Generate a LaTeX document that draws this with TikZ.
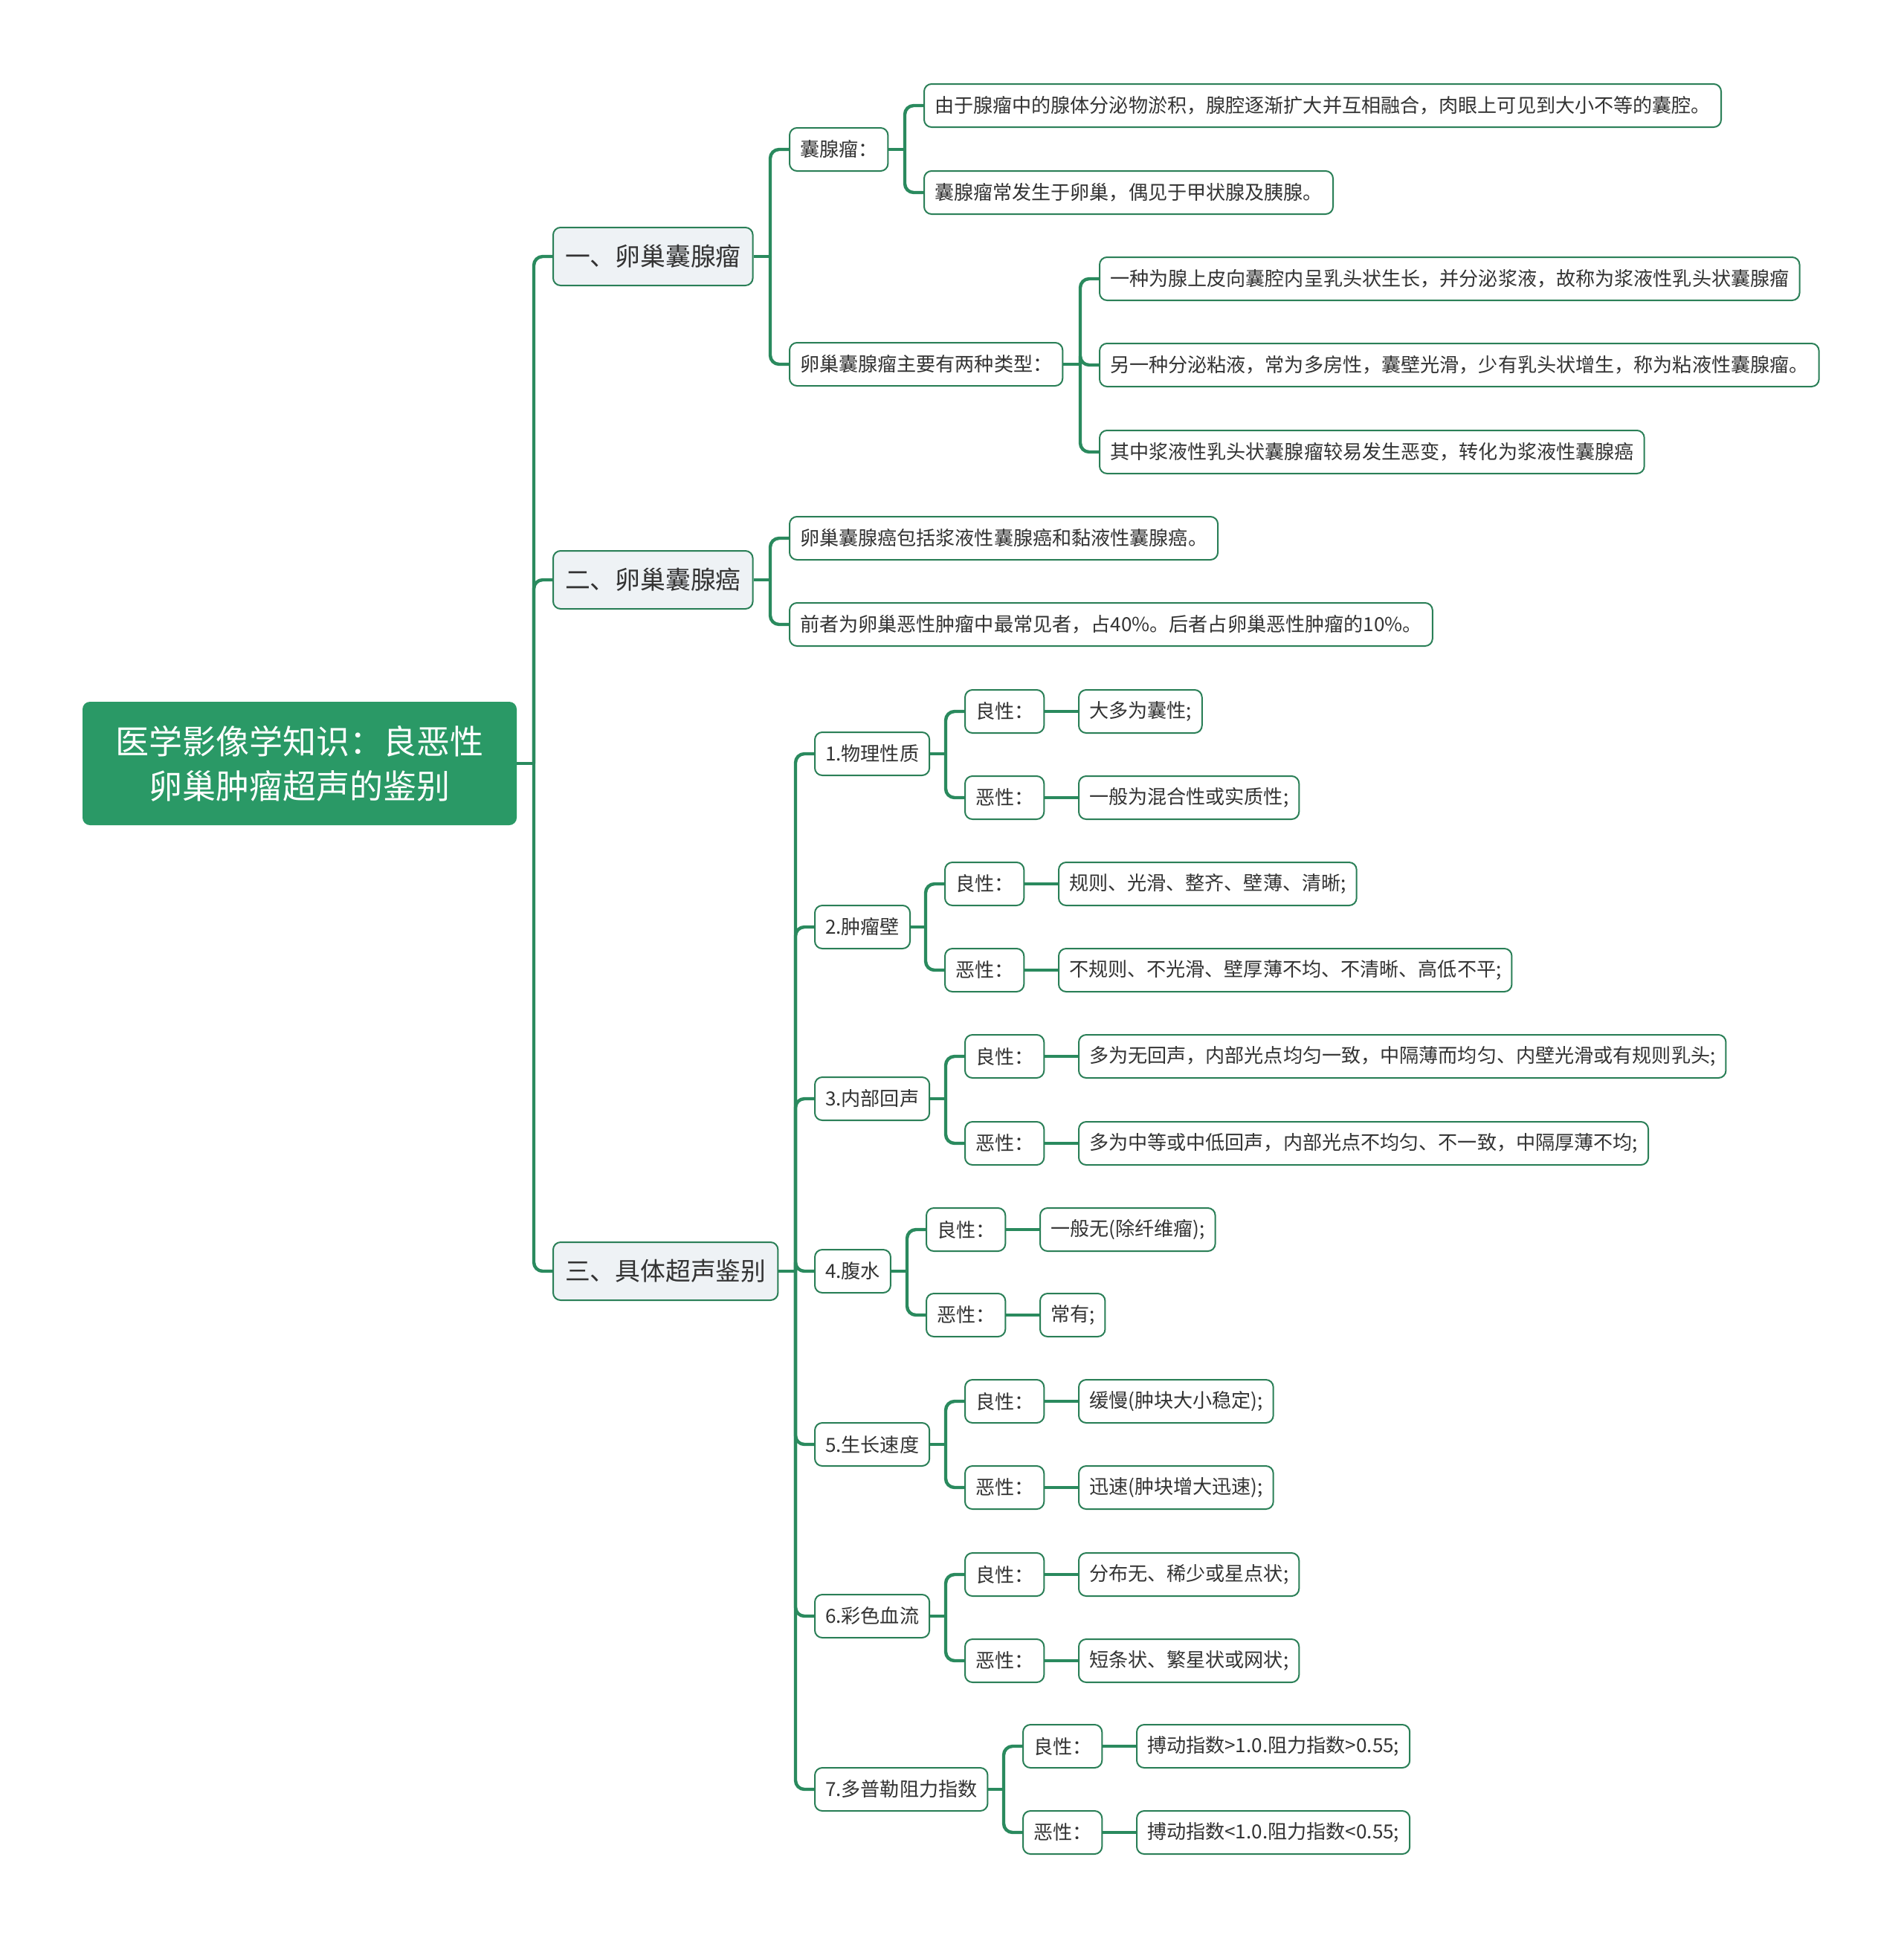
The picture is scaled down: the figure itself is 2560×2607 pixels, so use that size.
\documentclass[tikz,border=0pt]{standalone}
\usepackage{fontspec}
\setmainfont{Noto Sans CJK SC}
\usetikzlibrary{calc}
\definecolor{linec}{HTML}{2A8A5E}
\definecolor{borderc}{HTML}{2A7F57}
\definecolor{rootc}{HTML}{2A9966}
\definecolor{lonefill}{HTML}{EEF2F5}
\definecolor{txtc}{HTML}{333333}
\begin{document}
\begin{tikzpicture}[x=0.5pt,y=-0.5pt,
  conn/.style={draw=linec,line width=2.2pt,rounded corners=6pt},
  rootbox/.style={fill=rootc,text=white,rounded corners=5pt,align=center,
    minimum width=292pt,minimum height=83pt,inner sep=0pt,
    font=\fontsize{22.5}{30}\selectfont},
  lonebox/.style={draw=borderc,fill=lonefill,line width=1pt,rounded corners=5pt,
    text=txtc,anchor=west,minimum height=39pt,inner xsep=8pt,inner ysep=0pt,
    font=\fontsize{16.9}{20}\selectfont},
  leafbox/.style={draw=borderc,fill=white,line width=1pt,rounded corners=5pt,
    text=txtc,anchor=west,minimum height=29pt,inner xsep=7pt,inner ysep=0pt,
    font=\fontsize{13.05}{15}\selectfont}]
\fill[white] (0,0) rectangle (2560,2607);
\useasboundingbox (0,0) rectangle (2560,2607);

% root
\node[rootbox] (R) at (403,1027) {医学影像学知识：良恶性\\卵巢肿瘤超声的鉴别};
\coordinate (j0) at (718,1027);

% level 1
\node[lonebox] (A) at (743,345) {一、卵巢囊腺瘤};
\node[lonebox] (B) at (743,780) {二、卵巢囊腺癌};
\node[lonebox] (C) at (743,1710) {三、具体超声鉴别};

% A branch
\node[leafbox] (A1) at (1061,201) {囊腺瘤：};
\node[leafbox] (A2) at (1061,490) {卵巢囊腺瘤主要有两种类型：};
\node[leafbox] (A1a) at (1242,142) {由于腺瘤中的腺体分泌物淤积，腺腔逐渐扩大并互相融合，肉眼上可见到大小不等的囊腔。};
\node[leafbox] (A1b) at (1242,259) {囊腺瘤常发生于卵巢，偶见于甲状腺及胰腺。};
\node[leafbox] (A2a) at (1478,375) {一种为腺上皮向囊腔内呈乳头状生长，并分泌浆液，故称为浆液性乳头状囊腺瘤};
\node[leafbox] (A2b) at (1478,491) {另一种分泌粘液，常为多房性，囊壁光滑，少有乳头状增生，称为粘液性囊腺瘤。};
\node[leafbox] (A2c) at (1478,608) {其中浆液性乳头状囊腺瘤较易发生恶变，转化为浆液性囊腺癌};

% B branch
\node[leafbox] (B1) at (1061,724) {卵巢囊腺癌包括浆液性囊腺癌和黏液性囊腺癌。};
\node[leafbox] (B2) at (1061,840) {前者为卵巢恶性肿瘤中最常见者，占40\%。后者占卵巢恶性肿瘤的10\%。};

% C branch
\node[leafbox] (C1) at (1095,1014) {1.物理性质};
\node[leafbox] (C2) at (1095,1247) {2.肿瘤壁};
\node[leafbox] (C3) at (1095,1478) {3.内部回声};
\node[leafbox] (C4) at (1095,1710) {4.腹水};
\node[leafbox] (C5) at (1095,1943) {5.生长速度};
\node[leafbox] (C6) at (1095,2174) {6.彩色血流};
\node[leafbox] (C7) at (1095,2407) {7.多普勒阻力指数};

\node[leafbox] (G1) at (1297,957) {良性：};
\node[leafbox] (M1) at (1297,1073) {恶性：};
\node[leafbox] (G1t) at (1450,957) {大多为囊性;};
\node[leafbox] (M1t) at (1450,1073) {一般为混合性或实质性;};

\node[leafbox] (G2) at (1270,1189) {良性：};
\node[leafbox] (M2) at (1270,1305) {恶性：};
\node[leafbox] (G2t) at (1423,1189) {规则、光滑、整齐、壁薄、清晰;};
\node[leafbox] (M2t) at (1423,1305) {不规则、不光滑、壁厚薄不均、不清晰、高低不平;};

\node[leafbox] (G3) at (1297,1421) {良性：};
\node[leafbox] (M3) at (1297,1538) {恶性：};
\node[leafbox] (G3t) at (1450,1421) {多为无回声，内部光点均匀一致，中隔薄而均匀、内壁光滑或有规则乳头;};
\node[leafbox] (M3t) at (1450,1538) {多为中等或中低回声，内部光点不均匀、不一致，中隔厚薄不均;};

\node[leafbox] (G4) at (1245,1654) {良性：};
\node[leafbox] (M4) at (1245,1769) {恶性：};
\node[leafbox] (G4t) at (1398,1654) {一般无(除纤维瘤);};
\node[leafbox] (M4t) at (1398,1769) {常有;};

\node[leafbox] (G5) at (1297,1885) {良性：};
\node[leafbox] (M5) at (1297,2001) {恶性：};
\node[leafbox] (G5t) at (1450,1885) {缓慢(肿块大小稳定);};
\node[leafbox] (M5t) at (1450,2001) {迅速(肿块增大迅速);};

\node[leafbox] (G6) at (1297,2118) {良性：};
\node[leafbox] (M6) at (1297,2234) {恶性：};
\node[leafbox] (G6t) at (1450,2118) {分布无、稀少或星点状;};
\node[leafbox] (M6t) at (1450,2234) {短条状、繁星状或网状;};

\node[leafbox] (G7) at (1375,2349) {良性：};
\node[leafbox] (M7) at (1375,2465) {恶性：};
\node[leafbox] (G7t) at (1528,2349) {搏动指数>1.0.阻力指数>0.55;};
\node[leafbox] (M7t) at (1528,2465) {搏动指数<1.0.阻力指数<0.55;};

% junction coordinates
\coordinate (jA) at (1036,345);
\coordinate (jB) at (1036,780);
\coordinate (jC) at (1070,1710);
\coordinate (jA1) at (1217,201);
\coordinate (jA2) at (1453,490);
\coordinate (jC1) at (1272,1014);
\coordinate (jC2) at (1245,1247);
\coordinate (jC3) at (1272,1478);
\coordinate (jC4) at (1220,1710);
\coordinate (jC5) at (1272,1943);
\coordinate (jC6) at (1272,2174);
\coordinate (jC7) at (1350,2407);

% connectors
\draw[conn] (R.east) -- (j0);
\foreach \n in {A,B,C} \draw[conn] (j0) |- (\n.west);

\draw[conn] (A.east) -- (jA);
\foreach \n in {A1,A2} \draw[conn] (jA) |- (\n.west);
\draw[conn] (A1.east) -- (jA1);
\foreach \n in {A1a,A1b} \draw[conn] (jA1) |- (\n.west);
\draw[conn] (A2.east) -- (jA2);
\foreach \n in {A2a,A2b,A2c} \draw[conn] (jA2) |- (\n.west);

\draw[conn] (B.east) -- (jB);
\foreach \n in {B1,B2} \draw[conn] (jB) |- (\n.west);

\draw[conn] (C.east) -- (jC);
\foreach \n in {C1,C2,C3,C4,C5,C6,C7} \draw[conn] (jC) |- (\n.west);

\foreach \i in {1,...,7} {
  \draw[conn] (C\i.east) -- (jC\i);
  \draw[conn] (jC\i) |- (G\i.west);
  \draw[conn] (jC\i) |- (M\i.west);
  \draw[conn] (G\i.east) -- (G\i t.west);
  \draw[conn] (M\i.east) -- (M\i t.west);
}
\end{tikzpicture}
\end{document}
